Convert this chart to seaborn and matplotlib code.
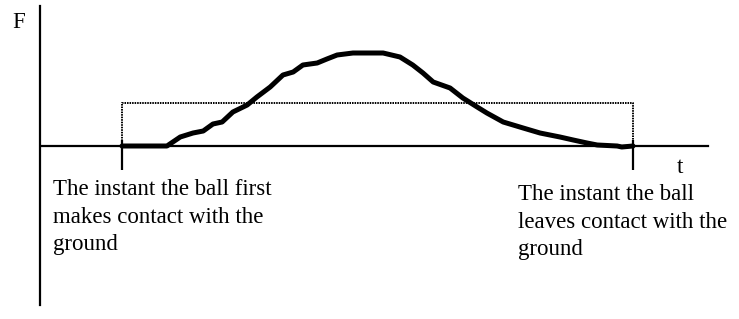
import matplotlib
matplotlib.use("Agg")
import matplotlib.pyplot as plt
import seaborn as sns
import pandas as pd

# ---- data (arbitrary units: t in ms of contact, F in force units) ----
t_values = [0.00, 0.88, 1.14, 1.39, 1.59, 1.78, 1.96, 2.17, 2.45, 2.64, 2.90,
            3.15, 3.35, 3.54, 3.82, 4.01, 4.21, 4.52, 5.11, 5.44, 5.69, 5.89,
            6.09, 6.42, 6.67, 6.95, 7.14, 7.46, 7.85, 8.18, 8.57, 8.83, 9.10,
            9.30, 9.69, 9.78, 10.00]
F_values = [0.0, 0.0, 0.9, 1.3, 1.5, 2.2, 2.4, 3.4, 4.1, 4.9, 5.9,
            7.1, 7.4, 8.1, 8.3, 8.7, 9.1, 9.3, 9.3, 8.9, 8.1, 7.3,
            6.4, 5.8, 4.8, 3.9, 3.3, 2.4, 1.8, 1.3, 0.9, 0.6, 0.3,
            0.1, 0.0, -0.1, 0.0]
contact_times = [0.0, 10.0]     # first contact, leaves contact
F_average = 4.3                 # height of dotted average-force box

axis_label_F = "F"
axis_label_t = "t"
label_first = ["The instant the ball first", "makes contact with the", "ground"]
label_leave = ["The instant the ball", "leaves contact with the", "ground"]

# ---- style ----
sns.set_theme(style="white")
plt.rcParams["font.family"] = ["Liberation Serif", "DejaVu Serif"]
plt.rcParams["text.color"] = "black"

W, H = 739, 319
fig = plt.figure(figsize=(W / 100, H / 100), dpi=100)
ax = fig.add_axes([0, 0, 1, 1])
ax.set_facecolor("white")
fig.patch.set_facecolor("white")

df = pd.DataFrame({"t": t_values, "F": F_values})
sns.lineplot(data=df, x="t", y="F", ax=ax, color="black", linewidth=3.6,
             sort=False, estimator=None, solid_joinstyle="round",
             solid_capstyle="round")

# dotted average-force rectangle
t0, t1 = contact_times
ax.plot([t0, t0, t1, t1], [0, F_average, F_average, 0], color="black",
        linestyle=(0, (0.8, 0.5)), linewidth=1.4)

# tick marks at the contact instants
ax.vlines(contact_times, -2.4, 0.6, color="black", linewidth=1.6)

# limits
ax.set_xlim(-2.387, 12.074)
ax.set_ylim(-17.3, 14.6)

# axes drawn as spines through the origin
for s in ["top", "right"]:
    ax.spines[s].set_visible(False)
ax.spines["left"].set_position(("data", -1.605))
ax.spines["left"].set_bounds(-15.9, 14.0)
ax.spines["bottom"].set_position(("data", 0))
ax.spines["bottom"].set_bounds(-1.57, 11.47)
for s in ["left", "bottom"]:
    ax.spines[s].set_color("black")
    ax.spines[s].set_linewidth(1.6)
ax.set_xticks([])
ax.set_yticks([])
ax.set_xlabel("")
ax.set_ylabel("")

fs = 16.5
def px(x, y):
    return x / W, 1 - y / H

txt = dict(fontsize=fs, va="baseline", ha="left", color="black")
fig.text(*px(12, 28), axis_label_F, **txt)
fig.text(*px(677, 173), axis_label_t, **txt)
for line, yb in zip(label_first, [195, 223, 250]):
    fig.text(*px(53, yb), line, **txt)
for line, yb in zip(label_leave, [200, 228, 255]):
    fig.text(*px(518, yb), line, **txt)

fig.savefig("out.png", dpi=100, facecolor="white")
